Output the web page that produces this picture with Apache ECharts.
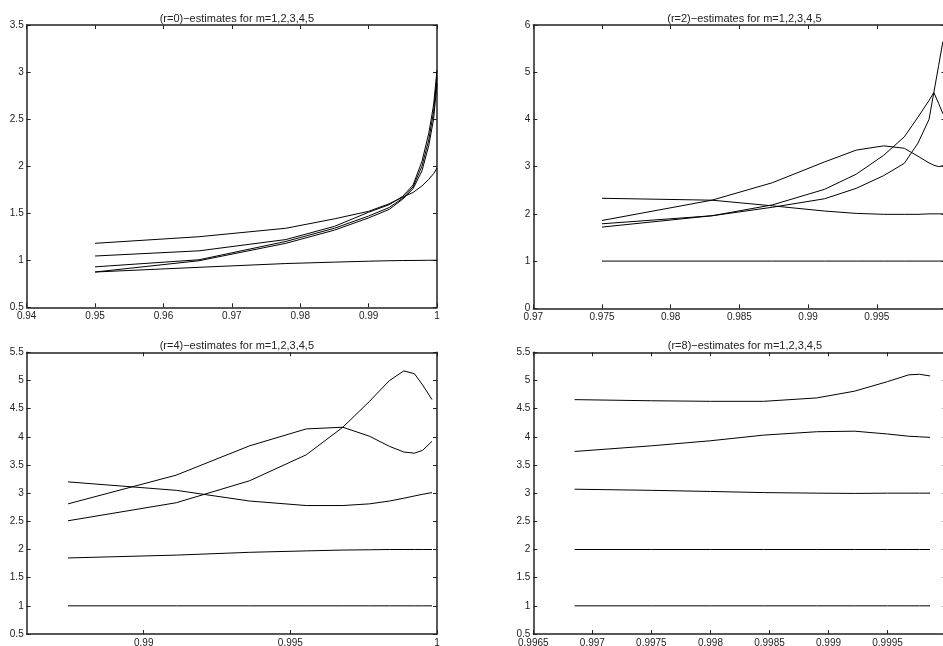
<!DOCTYPE html>
<html>
<head>
<meta charset="utf-8">
<script src="https://cdn.jsdelivr.net/npm/echarts@6/dist/echarts.min.js"></script>
<style>
html,body{margin:0;padding:0;background:#fff}
#main{width:943px;height:646px}
</style>
</head>
<body>
<div id="main"></div>
<script>
// 四个小图的标题
var titles = [
  '(r=0)\u2212estimates for m=1,2,3,4,5',
  '(r=2)\u2212estimates for m=1,2,3,4,5',
  '(r=4)\u2212estimates for m=1,2,3,4,5',
  '(r=8)\u2212estimates for m=1,2,3,4,5'
];

// r=0 左上
var x_r0  = [0.95, 0.9652, 0.9779, 0.985, 0.99, 0.993, 0.995, 0.9965, 0.9978, 0.9988, 0.9995, 1.0];
var r0_m1 = [0.875, 0.925, 0.965, 0.98, 0.99, 0.995, 0.997, 0.998, 0.999, 1.0, 1.0, 1.0];
var r0_m2 = [1.18, 1.25, 1.34, 1.44, 1.52, 1.60, 1.67, 1.72, 1.79, 1.86, 1.92, 1.98];
var r0_m3 = [1.045, 1.10, 1.22, 1.36, 1.51, 1.59, 1.68, 1.80, 2.05, 2.35, 2.65, 3.02];
var r0_m4 = [0.93, 1.005, 1.20, 1.34, 1.47, 1.56, 1.66, 1.78, 2.0, 2.28, 2.58, 2.95];
var r0_m5 = [0.875, 0.995, 1.18, 1.32, 1.45, 1.54, 1.65, 1.76, 1.95, 2.22, 2.50, 2.88];

// r=2 右上
var x_r2  = [0.975, 0.983, 0.9874, 0.9912, 0.9935, 0.9955, 0.997, 0.998, 0.9988, 0.99915, 0.9995, 0.99981];
var r2_m1 = [1, 1, 1, 1, 1, 1, 1, 1, 1, 1, 1, 1];
var r2_m2 = [2.33, 2.29, 2.17, 2.06, 2.01, 1.99, 1.99, 1.99, 2.0, 2.0, 2.0, 2.0];
var r2_m3 = [1.86, 2.29, 2.66, 3.10, 3.35, 3.44, 3.39, 3.22, 3.08, 3.03, 3.0, 3.02];
var r2_m4 = [1.79, 1.96, 2.19, 2.52, 2.84, 3.24, 3.63, 4.05, 4.40, 4.57, 4.34, 4.12];
var r2_m5 = [1.72, 1.96, 2.14, 2.32, 2.54, 2.81, 3.07, 3.50, 4.0, 4.57, 5.14, 5.65];

// r=4 左下
var x_r4  = [0.98742, 0.99111, 0.99361, 0.99554, 0.99679, 0.9977, 0.99838, 0.99887, 0.99923, 0.99951, 0.99983];
var r4_m1 = [1, 1, 1, 1, 1, 1, 1, 1, 1, 1, 1];
var r4_m2 = [1.85, 1.90, 1.95, 1.975, 1.99, 1.995, 2.0, 2.0, 2.0, 2.0, 2.0];
var r4_m3 = [3.20, 3.05, 2.86, 2.78, 2.78, 2.81, 2.86, 2.91, 2.95, 2.98, 3.01];
var r4_m4 = [2.51, 2.83, 3.22, 3.68, 4.17, 4.63, 5.0, 5.17, 5.12, 4.92, 4.66];
var r4_m5 = [2.81, 3.32, 3.84, 4.14, 4.17, 4.01, 3.83, 3.73, 3.71, 3.76, 3.92];

// r=8 右下
var x_r8  = [0.99685, 0.9975, 0.998, 0.99845, 0.9989, 0.99922, 0.9995, 0.99968, 0.99977, 0.99986];
var r8_m1 = [1, 1, 1, 1, 1, 1, 1, 1, 1, 1];
var r8_m2 = [2, 2, 2, 2, 2, 2, 2, 2, 2, 2];
var r8_m3 = [3.07, 3.05, 3.03, 3.01, 3.0, 2.995, 3.0, 3.0, 3.0, 3.0];
var r8_m4 = [3.74, 3.84, 3.93, 4.03, 4.09, 4.10, 4.05, 4.01, 4.0, 3.99];
var r8_m5 = [4.66, 4.64, 4.63, 4.63, 4.69, 4.81, 4.98, 5.10, 5.11, 5.08];

// 刻度
var xticks_r0 = [0.94, 0.95, 0.96, 0.97, 0.98, 0.99, 1];
var xticks_r2 = [0.97, 0.975, 0.98, 0.985, 0.99, 0.995, 1];
var xticks_r4 = [0.99, 0.995, 1];
var xticks_r8 = [0.9965, 0.997, 0.9975, 0.998, 0.9985, 0.999, 0.9995, 1];

var panels = [
  {x: x_r0, ys: [r0_m1, r0_m2, r0_m3, r0_m4, r0_m5], xticks: xticks_r0, xmin: 0.94, xmax: 1, ymin: 0.5, ymax: 3.5, ystep: 0.5,
   grid: {left: 26.7, top: 25, width: 410.3, height: 282.3}},
  {x: x_r2, ys: [r2_m1, r2_m2, r2_m3, r2_m4, r2_m5], xticks: xticks_r2, xmin: 0.97, xmax: 1, ymin: 0, ymax: 6, ystep: 1,
   grid: {left: 533.3, top: 25, width: 412.2, height: 283.3}},
  {x: x_r4, ys: [r4_m1, r4_m2, r4_m3, r4_m4, r4_m5], xticks: xticks_r4, xmin: 0.98601, xmax: 1, ymin: 0.5, ymax: 5.5, ystep: 0.5,
   grid: {left: 26.7, top: 352.3, width: 410.3, height: 281.7}},
  {x: x_r8, ys: [r8_m1, r8_m2, r8_m3, r8_m4, r8_m5], xticks: xticks_r8, xmin: 0.9965, xmax: 1, ymin: 0.5, ymax: 5.5, ystep: 0.5,
   grid: {left: 533.3, top: 352.3, width: 413.3, height: 281.7}}
];

var axisColor = '#222';
var fontFam = 'Liberation Sans, Arial, sans-serif';

var option = {
  animation: false,
  backgroundColor: '#fff',
  title: [],
  grid: [],
  xAxis: [],
  yAxis: [],
  series: []
};

panels.forEach(function (p, i) {
  // 右边的图超出画布一点,不要让echarts自己缩进来
  var g = Object.assign({outerBoundsMode: 'none', containLabel: false}, p.grid);
  option.grid.push(g);
  option.title.push({
    text: titles[i],
    left: p.grid.left + p.grid.width / 2,
    top: p.grid.top - 17,
    textAlign: 'center',
    textStyle: {fontSize: 11, fontWeight: 'normal', color: axisColor, fontFamily: fontFam}
  });
  // 下面和上面的x轴,上面的只画刻度
  ['bottom', 'top'].forEach(function (pos) {
    option.xAxis.push({
      type: 'value', gridIndex: i, position: pos,
      min: p.xmin, max: p.xmax,
      axisLine: {show: true, onZero: false, lineStyle: {color: axisColor, width: 1.5}},
      axisTick: {show: true, inside: true, length: 4, customValues: p.xticks, lineStyle: {color: axisColor}},
      axisLabel: {show: pos === 'bottom', customValues: p.xticks, margin: 4, fontSize: 10, color: axisColor, fontFamily: fontFam,
        showMinLabel: true, showMaxLabel: true},
      splitLine: {show: false}
    });
  });
  ['left', 'right'].forEach(function (pos) {
    option.yAxis.push({
      type: 'value', gridIndex: i, position: pos,
      min: p.ymin, max: p.ymax, interval: p.ystep,
      axisLine: {show: true, onZero: false, lineStyle: {color: axisColor, width: 1.5}},
      axisTick: {show: true, inside: true, length: 4, lineStyle: {color: axisColor}},
      axisLabel: {show: pos === 'left', margin: 3, fontSize: 10, color: axisColor, fontFamily: fontFam,
        showMinLabel: true, showMaxLabel: true},
      splitLine: {show: false}
    });
  });
  p.ys.forEach(function (ys) {
    option.series.push({
      type: 'line',
      xAxisIndex: 2 * i,
      yAxisIndex: 2 * i,
      showSymbol: false,
      symbol: 'none',
      lineStyle: {color: '#000', width: 1},
      data: p.x.map(function (xv, k) { return [xv, ys[k]]; })
    });
  });
});

var myChart = echarts.init(document.getElementById('main'));
myChart.setOption(option);
</script>
</body>
</html>
